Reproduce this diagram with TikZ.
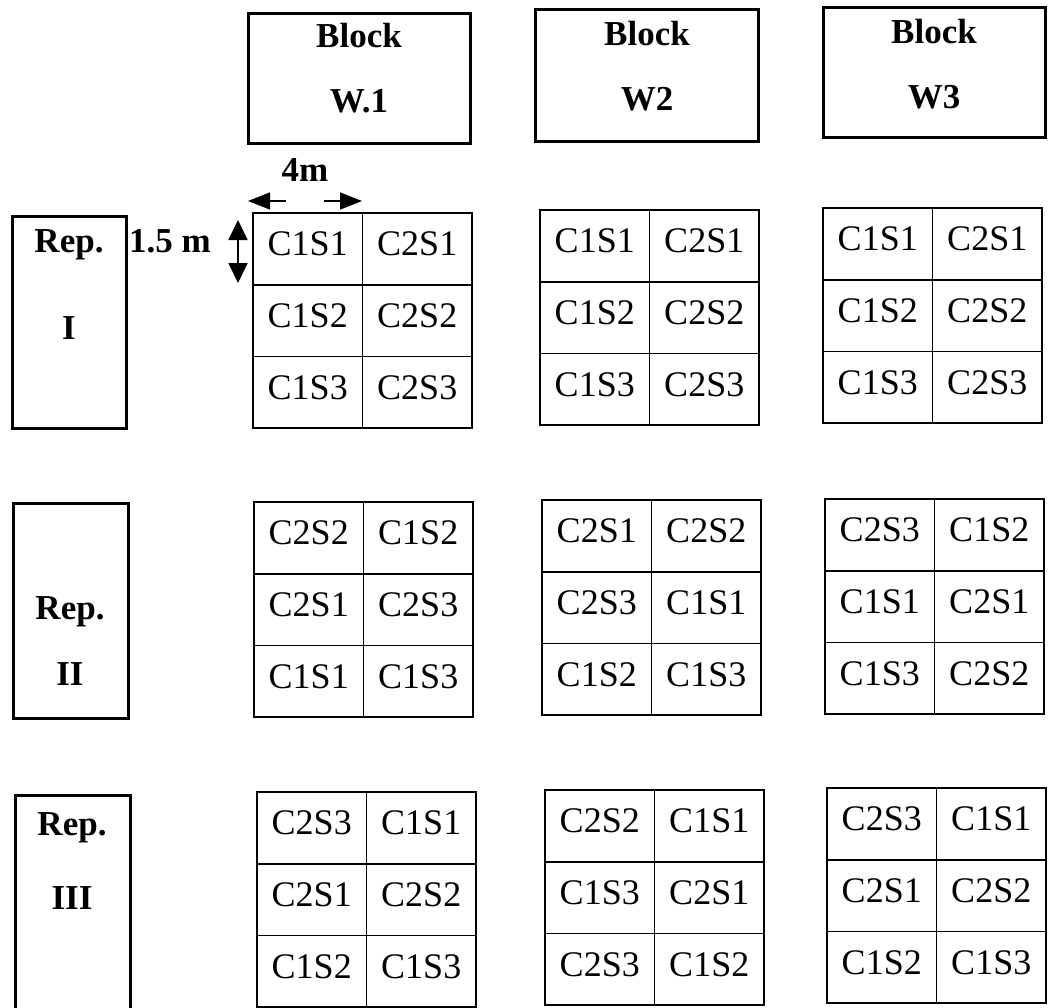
\documentclass[tikz,border=0pt]{standalone}
\usepackage{fontspec}
\setmainfont{Liberation Serif}
\usetikzlibrary{arrows.meta}
\newcommand\plotgrid[9]{%
  \node[cell, anchor=north west] (#1a) at (#2,#3) {#4};
  \node[cell, anchor=north west] (#1b) at (#1a.north east) {#5};
  \node[cell, anchor=north west] (#1c) at (#1a.south west) {#6};
  \node[cell, anchor=north west] (#1d) at (#1c.north east) {#7};
  \node[cell, anchor=north west] (#1e) at (#1c.south west) {#8};
  \node[cell, anchor=north west] (#1f) at (#1e.north east) {#9};
}
\begin{document}
\begin{tikzpicture}[x=1pt,y=-1pt,
  cell/.style={draw, line width=1.6pt, rectangle, minimum width=109.5pt, minimum height=71.7pt,
    inner sep=0pt, outer sep=0pt, text height=24pt, text depth=10pt,
    font=\fontsize{36}{40}\selectfont},
  heavybox/.style={draw, line width=3pt, rectangle, inner sep=0pt, outer sep=0pt},
  lbl/.style={anchor=base, inner sep=0pt, font=\fontsize{35}{40}\selectfont\bfseries},
  dimarrow/.style={line width=1.6pt, {Triangle[length=22pt,width=17pt]}-{Triangle[length=22pt,width=17pt]}},
  vdimarrow/.style={line width=1.8pt, {Triangle[length=20pt,width=19pt]}-{Triangle[length=20pt,width=19pt]}}
]
\useasboundingbox (0,0) rectangle (1055,1007);
\clip (0,0) rectangle (1055,1007);
\fill[white] (0,0) rectangle (1055,1007);

% Block boxes
\node[heavybox, minimum width=222pt, minimum height=130pt, anchor=north west] (bw1) at (248,13) {};
\node[heavybox, minimum width=223pt, minimum height=132pt, anchor=north west] (bw2) at (535,9) {};
\node[heavybox, minimum width=222pt, minimum height=130pt, anchor=north west] (bw3) at (823,7) {};
\node[lbl] (bw1t) at (359,47) {Block};
\node[lbl] (bw1n) at (359,112) {W.1};
\node[lbl] (bw2t) at (647,45) {Block};
\node[lbl] (bw2n) at (647,110) {W2};
\node[lbl] (bw3t) at (934,43) {Block};
\node[lbl] (bw3n) at (934,108) {W3};

% Rep boxes
\node[heavybox, minimum width=114pt, minimum height=212pt, anchor=north west] (rep1) at (12,216) {};
\node[heavybox, minimum width=115pt, minimum height=215pt, anchor=north west] (rep2) at (13,503) {};
\node[heavybox, minimum width=115pt, minimum height=230pt, anchor=north west] (rep3) at (15,795) {};
\node[lbl] (rep1a) at (69,252) {Rep.};
\node[lbl] (rep1b) at (69,339) {I};
\node[lbl] (rep2a) at (70,619) {Rep.};
\node[lbl] (rep2b) at (70,685) {II};
\node[lbl] (rep3a) at (72,835) {Rep.};
\node[lbl] (rep3b) at (72,909) {III};

% dimensions
\node[lbl, anchor=base west] (dimv) at (129,252) {1.5 m};
\node[lbl] (dimh) at (305,181) {4m};
\coordinate (hl) at (248,201);
\coordinate (hr) at (362,201);
\draw[dimarrow, dash pattern=on 16pt off 38pt] (hl) -- (hr);
\coordinate (vt) at (238,220);
\coordinate (vb) at (238,283);
\draw[vdimarrow] (vt) -- (vb);

% grids
\plotgrid{ga}{253}{213}{C1S1}{C2S1}{C1S2}{C2S2}{C1S3}{C2S3}
\plotgrid{gb}{540}{210}{C1S1}{C2S1}{C1S2}{C2S2}{C1S3}{C2S3}
\plotgrid{gc}{823}{208}{C1S1}{C2S1}{C1S2}{C2S2}{C1S3}{C2S3}
\plotgrid{gd}{254}{502}{C2S2}{C1S2}{C2S1}{C2S3}{C1S1}{C1S3}
\plotgrid{ge}{542}{500}{C2S1}{C2S2}{C2S3}{C1S1}{C1S2}{C1S3}
\plotgrid{gf}{825}{499}{C2S3}{C1S2}{C1S1}{C2S1}{C1S3}{C2S2}
\plotgrid{gg}{257}{792}{C2S3}{C1S1}{C2S1}{C2S2}{C1S2}{C1S3}
\plotgrid{gh}{545}{790}{C2S2}{C1S1}{C1S3}{C2S1}{C2S3}{C1S2}
\plotgrid{gi}{827}{788}{C2S3}{C1S1}{C2S1}{C2S2}{C1S2}{C1S3}
\end{tikzpicture}
\end{document}
